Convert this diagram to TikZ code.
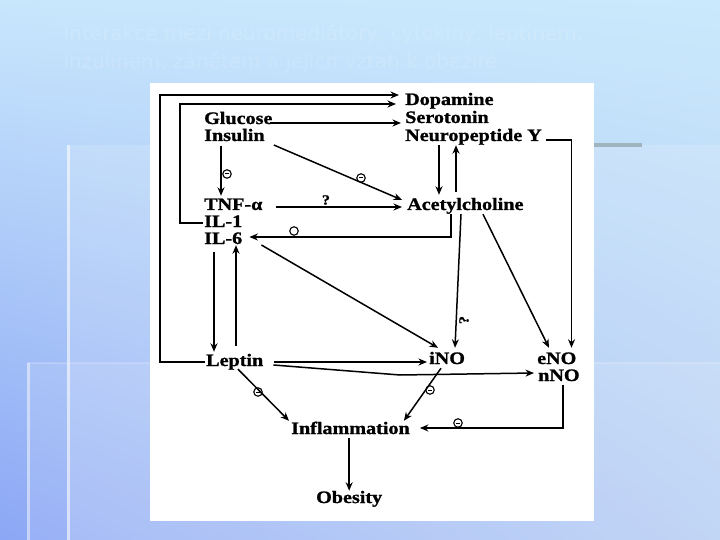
\documentclass[tikz,border=0pt]{standalone}
\usepackage{fontspec}
\setmainfont{Liberation Serif}[FakeStretch=1.15, BoldFeatures={FakeBold=1.2}]
\newfontfamily\titlefont{DejaVu Sans}
\usetikzlibrary{arrows.meta,calc,shadings}
\definecolor{bgTL}{RGB}{200,231,252}
\definecolor{bgTR}{RGB}{203,233,252}
\definecolor{bgBL}{RGB}{140,167,245}
\definecolor{bgBR}{RGB}{176,202,243}
\definecolor{barGrey}{RGB}{160,180,192}
\tikzset{
  lbl/.style={anchor=base west, inner sep=1pt, font=\bfseries\fontsize{17.5}{18}\selectfont, text height=11pt, text depth=3pt},
  arr/.style={line width=1.5pt, -{Stealth[length=8.5pt,width=7pt]}},
  neg/.style={circle, draw, line width=1.1pt, inner sep=0pt, minimum size=8.5pt,
    path picture={\draw[line width=1pt] ([xshift=-2.2pt]path picture bounding box.center) -- ([xshift=2.2pt]path picture bounding box.center);}},
  ring/.style={circle, draw, line width=1.1pt, inner sep=0pt, minimum size=8.5pt},
  qm/.style={inner sep=0pt, font=\bfseries\fontsize{14}{14}\selectfont},
}
\begin{document}
\begin{tikzpicture}[x=1pt,y=-1pt]
\useasboundingbox (0,0) rectangle (720,540);
% background
\shade[upper left=bgTL, upper right=bgTR, lower left=bgBL, lower right=bgBR] (0,0) rectangle (720,540);
\fill[white, opacity=0.14] (67,145) rectangle (720,540);
\fill[white, opacity=0.10] (27,363) rectangle (720,540);
\draw[white, opacity=0.55, line width=3pt] (68.5,145) -- (68.5,540);
\draw[white, opacity=0.45, line width=3pt] (28.5,363) -- (28.5,540);
\draw[white, opacity=0.18, line width=1.5pt] (27,363) -- (720,363);
\draw[barGrey, line width=4pt] (594,145) -- (642,145);
% title
\node[anchor=west, text=white, opacity=0.13, font=\titlefont\fontsize{20}{28}\selectfont, align=left] (title) at (60,49)
  {Interakce mezi neuromediátory, cytokiny, leptinem,\\inzulinem, zánětem a jejich vztah k obezitě};
% panel
\fill[white] (150,83) rectangle (594,521);
% nodes
\node[lbl] (dop) at (404,105) {Dopamine};
\node[lbl] (ser) at (404,123) {Serotonin};
\node[lbl] (npy) at (404,141) {Neuropeptide Y};
\node[lbl] (glu) at (203,124) {Glucose};
\node[lbl] (ins) at (203,141) {Insulin};
\node[lbl] (tnf) at (203,210) {TNF-α};
\node[lbl] (il1) at (203,227) {IL-1};
\node[lbl] (il6) at (203,244) {IL-6};
\node[lbl] (ach) at (406,210) {Acetylcholine};
\node[lbl] (lep) at (205,366) {Leptin};
\node[lbl] (ino) at (428,364) {iNO};
\node[lbl] (eno) at (536,364) {eNO};
\node[lbl] (nno) at (537,381) {nNO};
\node[lbl] (inf) at (290,434) {Inflammation};
\node[lbl] (obe) at (315,503) {Obesity};
% loops to dopamine
\draw[arr] (lep.west) -| (160,95) -- ($(dop.west)+(-5,-6)$);
\draw[arr] (il1.west) -| (180,104) -- ($(dop.west)+(-8,3)$);
% glucose / insulin
\draw[arr] ($(glu.east)+(-4,3)$) -- ($(ser.west)+(-3,4)$);
\draw[arr] ($(ins.east)+(8,8)$) -- ($(ach.west)+(-4,-6)$);
\draw[arr] ($(ins.south west)+(18,1)$) -- ($(tnf.north west)+(18,-2)$);
\node[neg] (n1) at (227,174) {};
\node[neg] (n2) at (361,178) {};
% TNF -> ACh
\draw[arr] ($(tnf.east)+(12,1)$) -- ($(ach.west)+(-4,1)$);
\node[qm] (q1) at (326,200) {?};
% ACh -> IL-6
\draw[arr] ($(ach.south west)+(45,0)$) |- ($(il6.east)+(6,-3)$);
\node[ring] (r1) at (294,231) {};
% NPY <-> ACh
\draw[arr] ($(npy.south west)+(35,0)$) -- ($(ach.north west)+(33,-3)$);
\draw[arr] ($(ach.north west)+(50,-6)$) -- ($(npy.south west)+(52,0)$);
% NPY -> eNO
\draw[arr] ($(npy.east)+(3,3)$) -| ($(eno.north east)+(-6,-4)$);
% ACh -> iNO, eNO
\draw[arr] ($(ach.south west)+(55,0)$) -- ($(ino.north west)+(27,-4)$);
\node[qm, rotate=90] (q2) at (464,320) {?};
\draw[arr] ($(ach.south west)+(77,0)$) -- ($(eno.north west)+(13,-4)$);
% IL-6 -> iNO
\draw[arr] ($(il6.east)+(18,5)$) -- ($(ino.north west)+(10,-4)$);
% IL-6 <-> Leptin
\draw[arr] ($(il6.south west)+(11,4)$) -- ($(lep.north west)+(9,-2)$);
\draw[arr] ($(lep.north west)+(31,-8)$) -- ($(il6.south west)+(33,-3)$);
% Leptin -> iNO, nNO
\draw[arr] ($(lep.east)+(10,0)$) -- ($(ino.west)+(-1,2)$);
\draw[arr] ($(lep.east)+(9,3)$) -- (400,375) -- ($(nno.west)+(-3,-4)$);
% -> Inflammation
\draw[arr] ($(lep.south west)+(33,-1)$) -- ($(inf.north west)+(-1,-1)$);
\node[neg] (n3) at (258,392) {};
\draw[arr] ($(ino.south west)+(13,0)$) -- ($(inf.north east)+(-7,-1)$);
\node[neg] (n4) at (430,390) {};
\draw[arr] ($(nno.south east)+(-18,0)$) |- ($(inf.east)+(9,-2)$);
\node[neg] (n5) at (458,423) {};
% Inflammation -> Obesity
\draw[arr] (inf.south -| obe.north) -- (obe.north);
\end{tikzpicture}
\end{document}
